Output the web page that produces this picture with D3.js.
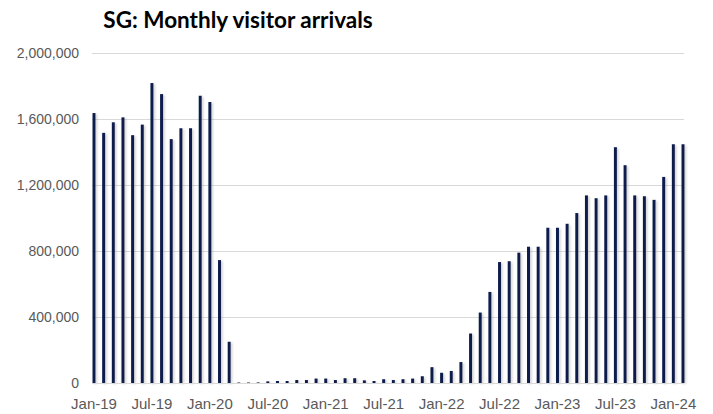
<!DOCTYPE html>
<html>
<head>
<meta charset="utf-8">
<script src="https://cdn.jsdelivr.net/npm/d3@7/dist/d3.min.js"></script>
<style>
  html, body { margin: 0; padding: 0; background: #fff; }
  svg { display: block; font-family: Lato, 'Open Sans', sans-serif; }
</style>
</head>
<body>
<div id="chart"></div>
<script>
// monthly categories Jan-19 .. Feb-24
const months = d3.timeMonths(new Date(2019, 0, 1), new Date(2024, 2, 1))

// visitor arrivals per month
const arrivals = [
  1636000, 1516000, 1580000, 1610000, 1502000, 1566000, 1818000, 1751000, 1478000, 1544000, 1544000, 1741000,
  1703000, 745000, 250000, 3000, 3000, 3500, 10000, 12000, 12000, 18000, 18000, 27000,
  27000, 18000, 29000, 29000, 16000, 12000, 23000, 18000, 23000, 27000, 41000, 96000,
  62000, 73000, 127000, 300000, 427000, 552000, 733000, 738000, 790000, 826000, 826000, 941000,
  941000, 965000, 1030000, 1137000, 1120000, 1137000, 1429000, 1320000, 1137000, 1132000, 1110000, 1249000,
  1447000, 1447000
]

const yTicks = [0, 400000, 800000, 1200000, 1600000, 2000000]
const xTickLabels = ['Jan-19', 'Jul-19', 'Jan-20', 'Jul-20', 'Jan-21', 'Jul-21',
  'Jan-22', 'Jul-22', 'Jan-23', 'Jul-23', 'Jan-24']

const width = 713
const height = 414
const fmtMonth = d3.timeFormat('%b-%y')

const svg = d3.select('#chart')
  .append('svg')
  .attr('width', width)
  .attr('height', height)

svg.append('rect')
  .attr('width', width)
  .attr('height', height)
  .attr('fill', '#fff')

// soft shadow like the Excel bars
const filter = svg.append('defs').append('filter')
  .attr('id', 'shadow')
  .attr('x', '-100%').attr('y', '-5%')
  .attr('width', '300%').attr('height', '110%')
filter.append('feDropShadow')
  .attr('dx', 1.5).attr('dy', 1)
  .attr('stdDeviation', 1)
  .attr('flood-color', '#777')
  .attr('flood-opacity', 0.35)

// 比例尺
const step = (683 - 94) / (months.length - 1)
const x = d3.scaleBand()
  .domain(months.map(fmtMonth))
  .range([94 - step / 2, 683 + step / 2])
  .paddingInner(0.69)
  .paddingOuter(0.345)

const y = d3.scaleLinear()
  .domain([0, 2000000])
  .range([383, 53])

// title
svg.append('text')
  .attr('x', 238)
  .attr('y', 28)
  .attr('text-anchor', 'middle')
  .style('font-size', '22.5px')
  .style('font-weight', 'bold')
  .style('fill', '#000')
  .text('SG: Monthly visitor arrivals')

// gridlines + y axis
const yAxis = svg.append('g')
  .attr('transform', 'translate(92,0)')
  .call(d3.axisLeft(y)
    .tickValues(yTicks)
    .tickSize(-592)
    .tickPadding(13)
    .tickFormat(d3.format(',')))

yAxis.select('.domain').remove()
yAxis.selectAll('.tick line')
  .attr('stroke', '#d9d9d9')
  .attr('stroke-width', 1)
yAxis.selectAll('.tick text')
  .style('font-size', '14px')
  .style('fill', '#595959')

// bars
svg.append('g')
  .selectAll('rect')
  .data(arrivals)
  .enter().append('rect')
  .attr('x', (d, i) => x(fmtMonth(months[i])))
  .attr('width', x.bandwidth())
  .attr('y', d => y(d))
  .attr('height', d => y(0) - y(d))
  .attr('fill', '#0c1f4e')
  .attr('filter', 'url(#shadow)')

// x axis
const xAxis = svg.append('g')
  .attr('transform', 'translate(0,383)')
  .call(d3.axisBottom(x)
    .tickValues(xTickLabels)
    .tickSize(0)
    .tickPadding(15))

xAxis.select('.domain')
  .attr('stroke', '#d9d9d9')
  .attr('d', 'M92,0.5H684')
xAxis.selectAll('.tick text')
  .style('font-size', '15px')
  .style('fill', '#595959')
</script>
</body>
</html>
